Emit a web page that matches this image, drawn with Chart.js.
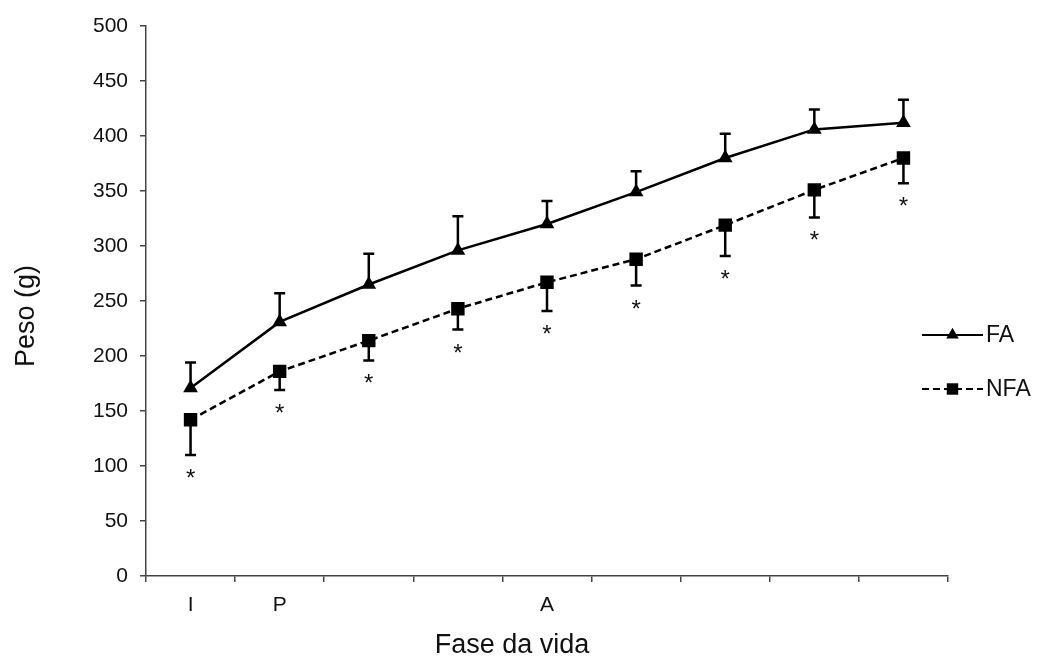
<!DOCTYPE html>
<html><head><meta charset="utf-8">
<script src="https://cdn.jsdelivr.net/npm/chart.js@4/dist/chart.umd.min.js"></script>
<style>html,body{margin:0;padding:0;background:#fff}#wrap{width:1040px;height:660px;position:relative}</style>
</head><body><div id="wrap"><canvas id="c"></canvas></div>
<script>
const categories = ['I', 'P', '', '', 'A', '', '', '', ''];
const faValues = [171, 231, 265, 296, 320, 349, 380, 406, 412];
const faErr = [23, 26, 28, 31, 21, 19, 22, 18, 21];
const nfaValues = [142, 186, 214, 243, 267, 288, 319, 351, 380];
const nfaErr = [32, 17, 18, 19, 26, 24, 28, 25, 23];
const nfaSignificant = [true, true, true, true, true, true, true, true, true];
const seriesNames = ['FA', 'NFA'];
const yMin = 0, yMax = 500, yStep = 50;
const xTitle = 'Fase da vida';
const yTitle = 'Peso (g)';

const FONT = '"Liberation Sans", Arial, sans-serif';

const errorBarPlugin = {
  id: 'errorBars',
  beforeDatasetsDraw(chart) {
    const ctx = chart.ctx;
    const y = chart.scales.y;
    chart.data.datasets.forEach((ds, di) => {
      const meta = chart.getDatasetMeta(di);
      if (!ds.errors) return;
      ctx.save();
      ctx.strokeStyle = '#000';
      ctx.lineWidth = 2.5;
      meta.data.forEach((pt, i) => {
        const v = ds.data[i];
        const e = ds.errors[i];
        const end = ds.errSide === 'up' ? v + e : v - e;
        const py = y.getPixelForValue(end);
        ctx.beginPath();
        ctx.moveTo(pt.x, pt.y);
        ctx.lineTo(pt.x, py);
        ctx.moveTo(pt.x - 5.5, py);
        ctx.lineTo(pt.x + 5.5, py);
        ctx.stroke();
        if (ds.significant && ds.significant[i]) {
          ctx.fillStyle = '#111';
          ctx.font = '24px ' + FONT;
          ctx.textAlign = 'center';
          ctx.textBaseline = 'alphabetic';
          ctx.fillText('*', pt.x, py + 31);
        }
      });
      ctx.restore();
    });
  }
};

const titlesPlugin = {
  id: 'axisTitles',
  afterDraw(chart) {
    const ctx = chart.ctx;
    ctx.save();
    ctx.fillStyle = '#111';
    ctx.font = '27px ' + FONT;
    ctx.textAlign = 'center';
    ctx.textBaseline = 'middle';
    ctx.fillText(xTitle, 512, 646);
    ctx.translate(27, 316);
    ctx.rotate(-Math.PI / 2);
    ctx.fillText(yTitle, 0, 0);
    ctx.restore();
  }
};

const legendPlugin = {
  id: 'customLegend',
  afterDraw(chart) {
    const ctx = chart.ctx;
    const x0 = chart.chartArea.right - 26;
    const x1 = x0 + 61;
    const rows = [335, 389];
    chart.data.datasets.forEach((ds, di) => {
      const yy = rows[di];
      ctx.save();
      ctx.strokeStyle = '#000';
      ctx.lineWidth = 2;
      ctx.setLineDash(ds.borderDash || []);
      ctx.beginPath();
      ctx.moveTo(x0, yy);
      ctx.lineTo(x1, yy);
      ctx.stroke();
      ctx.setLineDash([]);
      ctx.fillStyle = '#000';
      Chart.helpers.drawPoint(ctx, {pointStyle: ds.pointStyle, radius: ds.pointRadius * 0.85, borderWidth: 0}, (x0 + x1) / 2, yy);
      ctx.fillStyle = '#111';
      ctx.font = '23px ' + FONT;
      ctx.textAlign = 'left';
      ctx.textBaseline = 'middle';
      ctx.fillText(ds.label, x1 + 3, yy + 1);
      ctx.restore();
    });
  }
};

const ctx = document.getElementById('c').getContext('2d');
new Chart(ctx, {
  type: 'line',
  data: {
    labels: categories,
    datasets: [
      {
        label: seriesNames[0],
        data: faValues,
        errors: faErr,
        errSide: 'up',
        borderColor: '#000',
        backgroundColor: '#000',
        borderWidth: 2.5,
        pointStyle: 'triangle',
        pointRadius: 8.5,
        pointBackgroundColor: '#000',
        pointBorderColor: '#000',
        pointBorderWidth: 0,
        tension: 0
      },
      {
        label: seriesNames[1],
        data: nfaValues,
        errors: nfaErr,
        errSide: 'down',
        significant: nfaSignificant,
        borderColor: '#000',
        backgroundColor: '#000',
        borderWidth: 2.5,
        borderDash: [7, 4],
        pointStyle: 'rect',
        pointRadius: 9.5,
        pointBackgroundColor: '#000',
        pointBorderColor: '#000',
        pointBorderWidth: 0,
        tension: 0
      }
    ]
  },
  options: {
    responsive: true,
    maintainAspectRatio: false,
    animation: false,
    devicePixelRatio: 1,
    layout: { padding: { left: 0, right: 92, top: 26, bottom: 0 } },
    plugins: { legend: { display: false }, tooltip: { enabled: false } },
    scales: {
      x: {
        type: 'category',
        offset: true,
        grid: { offset: true, drawOnChartArea: false, drawTicks: true, tickLength: 6, color: '#444', lineWidth: 1.5 },
        border: { display: true, color: '#444', width: 1.5 },
        ticks: { color: '#111', font: { family: FONT, size: 21 }, padding: 11, autoSkip: false, maxRotation: 0 },
        title: { display: false },
        afterFit(scale) { scale.height = 84; }
      },
      y: {
        min: yMin, max: yMax,
        grid: { drawOnChartArea: false, drawTicks: true, tickLength: 6, color: '#444', lineWidth: 1.5 },
        border: { display: true, color: '#444', width: 1.5 },
        ticks: { stepSize: yStep, color: '#111', font: { family: FONT, size: 21 }, padding: 12 },
        title: { display: false },
        afterFit(scale) { scale.width = 146; }
      }
    }
  },
  plugins: [errorBarPlugin, titlesPlugin, legendPlugin]
});
</script>
</body></html>
